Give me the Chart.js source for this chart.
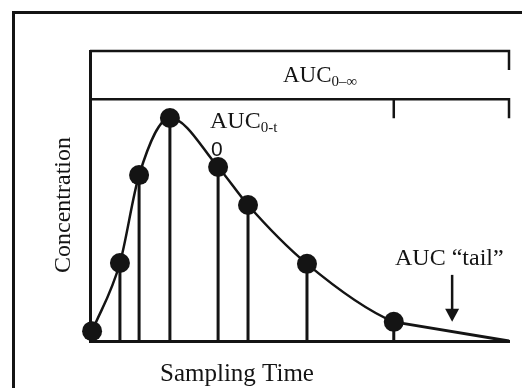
<!DOCTYPE html>
<html><head><meta charset="utf-8">
<script src="https://cdn.jsdelivr.net/npm/chart.js@4.4.1/dist/chart.umd.min.js"></script>
<style>html,body{margin:0;padding:0;background:#fff}#wrap{width:522px;height:388px;position:relative}</style>
</head><body><div id="wrap"><canvas id="c" width="522" height="388"></canvas></div>
<script>
// ---- data ----
const sampleTimes    = [0.07, 1.0, 1.64, 2.67, 4.28, 5.28, 7.25, 10.15];
const concentrations = [3.4, 26.9, 57.2, 76.9, 60.0, 46.9, 26.6, 6.6];
const tailTime = 14;
const tailConc = 0;
const xLabel = 'Sampling Time';
const yLabel = 'Concentration';
const aucInfLabel = ['AUC', '0–∞'];
const aucTLabel = ['AUC', '0-t'];
const tailLabel = 'AUC “tail”';
const strayLabel = '0';

// ---- derived datasets ----
const pts = sampleTimes.map((t, i) => ({x: t, y: concentrations[i]}));
const curvePts = pts.concat([{x: tailTime, y: tailConc}]);
const lastIdx = pts.length - 1;
const tailPts = [pts[lastIdx], {x: tailTime, y: tailConc}];
const stemPts = [];
pts.forEach((p, i) => { if (i > 0) { stemPts.push({x: p.x, y: 0}, {x: p.x, y: p.y}, {x: p.x, y: null}); } });

const INK = '#141414';
const SERIF = '"Liberation Serif", "Times New Roman", serif';

const annot = {
  id: 'annot',
  afterDraw(chart) {
    const {ctx, scales: {x, y}} = chart;
    const X = v => x.getPixelForValue(v), Y = v => y.getPixelForValue(v);
    ctx.save();
    ctx.strokeStyle = INK; ctx.fillStyle = INK; ctx.lineCap = 'butt';
    // outer frame (left + top only visible)
    ctx.lineWidth = 3;
    ctx.beginPath(); ctx.moveTo(13.5, 388); ctx.lineTo(13.5, 12.5); ctx.lineTo(522, 12.5); ctx.stroke();
    // brackets
    const x0 = X(0), xEnd = X(tailTime), xLast = X(sampleTimes[lastIdx]);
    const yTop = Y(100), yMid = Y(83.4);
    ctx.lineWidth = 2.5;
    ctx.beginPath();
    ctx.moveTo(x0, yTop); ctx.lineTo(xEnd, yTop); ctx.lineTo(xEnd, yTop + 19);
    ctx.moveTo(x0, yMid); ctx.lineTo(xEnd, yMid); ctx.lineTo(xEnd, yMid + 19);
    ctx.moveTo(xLast, yMid); ctx.lineTo(xLast, yMid + 19);
    ctx.stroke();
    // arrow
    const ax = X(12.1), ay0 = Y(22.8), ay1 = Y(6.6);
    ctx.lineWidth = 2.5;
    ctx.beginPath(); ctx.moveTo(ax, ay0); ctx.lineTo(ax, ay1 - 10); ctx.stroke();
    ctx.beginPath(); ctx.moveTo(ax - 7, ay1 - 13); ctx.lineTo(ax + 7, ay1 - 13); ctx.lineTo(ax, ay1); ctx.closePath(); ctx.fill();
    // texts
    ctx.textBaseline = 'alphabetic'; ctx.textAlign = 'left';
    const sub = (pair, lx, by, big, small) => {
      ctx.font = big + 'px ' + SERIF; ctx.fillText(pair[0], lx, by);
      const w = ctx.measureText(pair[0]).width;
      ctx.font = small + 'px ' + SERIF; ctx.fillText(pair[1], lx + w, by + 4);
    };
    sub(aucInfLabel, 283, 82, 23, 15);
    sub(aucTLabel, 210, 128, 24, 15);
    ctx.font = '24px ' + SERIF; ctx.fillText(tailLabel, 395, 265);
    ctx.font = '21px "Liberation Sans", Arial, sans-serif'; ctx.fillText(strayLabel, 211, 156);
    ctx.font = '25px ' + SERIF; ctx.fillText(xLabel, 160, 381);
    ctx.save(); ctx.translate(70, 205); ctx.rotate(-Math.PI / 2); ctx.textAlign = 'center';
    ctx.font = '24px ' + SERIF; ctx.fillText(yLabel, 0, 0); ctx.restore();
    ctx.restore();
  }
};

new Chart(document.getElementById('c'), {
  type: 'scatter',
  data: {
    datasets: [
      {label: 'samples', data: pts, showLine: false, pointRadius: 10, pointHoverRadius: 10,
       pointBackgroundColor: INK, pointBorderColor: INK, pointBorderWidth: 0, clip: false},
      {label: 'curve', data: curvePts, showLine: true, cubicInterpolationMode: 'monotone', pointRadius: 0,
       borderColor: INK, borderWidth: 2.5, clip: false,
       segment: {borderColor: c => c.p1DataIndex === curvePts.length - 1 ? 'rgba(0,0,0,0)' : INK}},
      {label: 'tail', data: tailPts, showLine: true, tension: 0, pointRadius: 0, borderColor: INK, borderWidth: 3, clip: false},
      {label: 'stems', data: stemPts, showLine: true, spanGaps: false, tension: 0, pointRadius: 0,
       borderColor: INK, borderWidth: 3, clip: false}
    ]
  },
  options: {
    responsive: false, animation: false, devicePixelRatio: 1,
    layout: {padding: {left: 90, right: 13, top: 51, bottom: 47}},
    plugins: {legend: {display: false}, tooltip: {enabled: false}},
    scales: {
      x: {type: 'linear', min: 0, max: tailTime, ticks: {display: false},
          grid: {display: false, drawTicks: false}, border: {display: true, color: INK, width: 3}},
      y: {type: 'linear', min: 0, max: 100, ticks: {display: false},
          grid: {display: false, drawTicks: false}, border: {display: true, color: INK, width: 3}}
    }
  },
  plugins: [annot]
});
</script>
</body></html>
